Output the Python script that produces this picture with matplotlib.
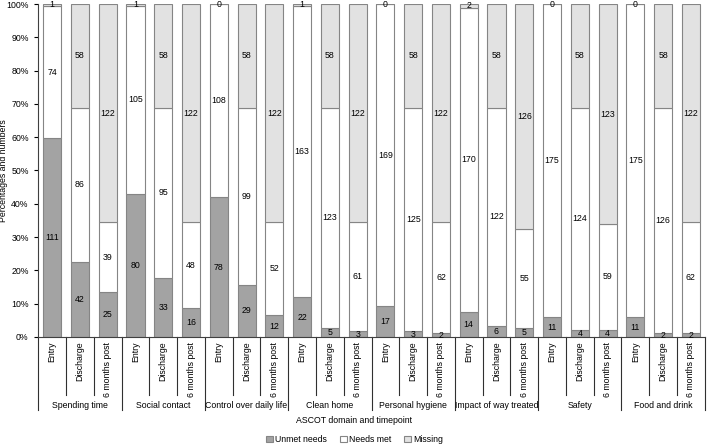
import numpy as np
import matplotlib.pyplot as plt
import matplotlib.transforms as mtransforms
from matplotlib.ticker import FuncFormatter

plt.rcParams['font.family'] = ['Liberation Sans', 'DejaVu Sans']

domains = ["Spending time", "Social contact", "Control over daily life", "Clean home",
           "Personal hygiene", "Impact of way treated", "Safety", "Food and drink"]
timepoints = ["Entry", "Discharge", "6 months post"]

# counts per bar, in order domain x timepoint
unmet = [111, 42, 25, 80, 33, 16, 78, 29, 12, 22, 5, 3,
         17, 3, 2, 14, 6, 5, 11, 4, 4, 11, 2, 2]
met = [74, 86, 39, 105, 95, 48, 108, 99, 52, 163, 123, 61,
       169, 125, 62, 170, 122, 55, 175, 124, 59, 175, 126, 62]
missing = [1, 58, 122, 1, 58, 122, 0, 58, 122, 1, 58, 122,
           0, 58, 122, 2, 58, 126, 0, 58, 123, 0, 58, 122]

unmet = np.array(unmet)
met = np.array(met)
missing = np.array(missing)
total = unmet + met + missing
p_unmet = unmet / total * 100
p_met = met / total * 100
p_miss = missing / total * 100

fig = plt.figure(figsize=(7.09, 4.45), dpi=100)
ax = fig.add_axes([0.054, 0.243, 0.94, 0.748])

x = np.arange(len(unmet))
w = 0.65
edge = '#858585'
ax.bar(x, p_unmet, w, color='#a3a3a3', edgecolor=edge, linewidth=0.8, label='Unmet needs')
ax.bar(x, p_met, w, bottom=p_unmet, color='white', edgecolor=edge, linewidth=0.8, label='Needs met')
ax.bar(x, p_miss, w, bottom=p_unmet + p_met, color='#e2e2e2', edgecolor=edge, linewidth=0.8,
       label='Missing')

fs = 6.3
for i in x:
    ax.text(i, p_unmet[i] / 2, str(unmet[i]), ha='center', va='center', fontsize=fs)
    ax.text(i, p_unmet[i] + p_met[i] / 2, str(met[i]), ha='center', va='center', fontsize=fs)
    ax.text(i, p_unmet[i] + p_met[i] + p_miss[i] / 2, str(missing[i]),
            ha='center', va='center', fontsize=fs)

ax.set_xlim(-0.5, len(x) - 0.5)
ax.set_ylim(0, 100)
ax.set_yticks(np.arange(0, 101, 10))
ax.yaxis.set_major_formatter(FuncFormatter(lambda v, p: f"{int(v)}%"))
ax.tick_params(axis='y', labelsize=fs, length=3, pad=4)
ax.set_xticks([])
ax.set_ylabel("Percentages and numbers", fontsize=fs)
ax.yaxis.set_label_coords(-0.046, 0.5)
for s in ['top', 'right']:
    ax.spines[s].set_visible(False)
ax.spines['bottom'].set_color('#404040')
ax.spines['left'].set_color('#404040')

# multi-level category axis
trans = mtransforms.blended_transform_factory(ax.transData, ax.transAxes)
for b in range(len(x) + 1):
    xb = b - 0.5
    low = -0.219 if b % 3 == 0 else -0.174
    ax.plot([xb, xb], [0, low], color='#303030', lw=0.8, transform=trans, clip_on=False)
for i in x:
    ax.text(i, -0.015, timepoints[i % 3], rotation=90, ha='center', va='top',
            fontsize=fs, transform=trans)
for g, name in enumerate(domains):
    ax.text(g * 3 + 1, -0.205, name, ha='center', va='center', fontsize=fs, transform=trans)

fig.text(0.5, 0.056, "ASCOT domain and timepoint", ha='center', va='center', fontsize=fs)
fig.legend(loc='center', bbox_to_anchor=(0.5, 0.012), ncol=3, frameon=False, fontsize=fs,
           handlelength=0.8, handleheight=0.8, handletextpad=0.2, columnspacing=1.5)

fig.savefig("out.png", dpi=100)
